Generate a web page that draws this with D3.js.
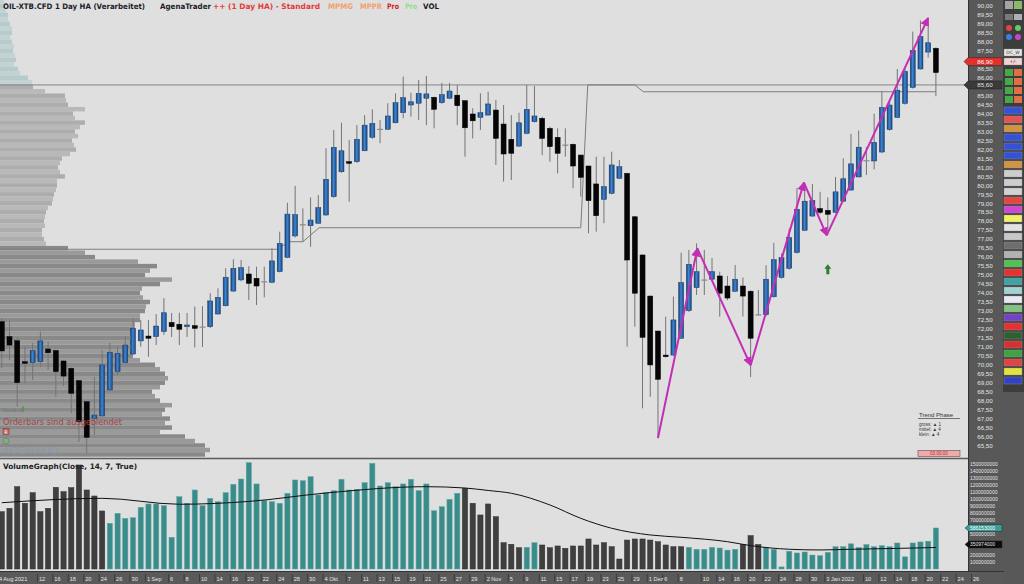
<!DOCTYPE html>
<html>
<head>
<meta charset="utf-8">
<script src="https://d3js.org/d3.v7.min.js"></script>
<style>
  html, body { margin: 0; padding: 0; background: #dfdfdf; }
  svg { display: block; font-family: 'DejaVu Sans', Verdana, sans-serif; }
</style>
</head>
<body>
<svg id="chart" width="1024" height="584"></svg>
<script>
// ---- data ----
// Heikin-Ashi candles, one per trading day, Aug 10 2021 .. Jan 21 2022
var haOpen = [
  72.40, 71.57, 71.34, 70.17, 70.12, 70.17, 70.88, 70.79, 70.21, 69.80,
  69.11, 67.94, 67.02, 67.15, 68.60, 69.62, 70.12, 70.60, 71.33, 71.60,
  71.57, 71.85, 72.36, 72.26, 72.12, 72.18, 72.12, 72.12, 72.83, 73.29,
  74.11, 74.73, 75.06, 74.82, 74.60, 74.60, 75.19, 75.99, 77.18, 77.79,
  77.75, 77.89, 78.35, 79.37, 80.76, 81.32, 81.32, 81.93, 82.68, 83.13,
  83.13, 83.49, 84.05, 84.48, 84.58, 84.86, 84.91, 84.61, 84.86, 85.03,
  84.72, 83.98, 83.79, 83.92, 84.20, 83.42, 82.57, 82.19, 82.90, 83.55,
  83.74, 83.18, 82.68, 82.25, 82.29, 81.69, 81.08, 80.08, 79.22, 79.56,
  80.40, 80.67, 78.25, 76.12, 73.83, 71.88, 70.54, 70.54, 71.48, 73.02,
  74.30, 74.73, 74.77, 74.95, 74.39, 74.10, 74.39, 74.10, 72.79, 72.79,
  73.79, 74.87, 75.38, 76.26, 77.50, 78.29, 78.71, 78.61, 78.50, 79.12,
  79.74, 80.47, 81.36, 81.36, 81.86, 83.11, 83.79, 84.57, 85.46, 86.49,
  87.43, 87.64
]
var haHigh = [
  72.61, 72.46, 71.49, 71.01, 71.22, 71.85, 71.29, 70.85, 70.25, 69.85,
  69.15, 67.98, 69.32, 70.82, 71.22, 71.01, 71.57, 72.59, 72.50, 72.50,
  72.83, 73.72, 72.89, 72.90, 72.89, 73.24, 73.27, 73.99, 74.26, 75.38,
  75.88, 75.84, 75.50, 75.47, 75.47, 76.49, 77.42, 79.03, 79.97, 78.72,
  79.33, 79.46, 82.07, 83.09, 83.49, 82.53, 83.36, 83.92, 84.24, 83.65,
  84.58, 85.13, 86.06, 85.17, 85.88, 86.10, 84.95, 85.72, 85.72, 85.60,
  84.75, 84.30, 85.13, 85.22, 84.76, 84.48, 83.92, 84.05, 85.60, 85.54,
  83.83, 83.27, 83.18, 83.18, 82.33, 81.72, 81.10, 81.60, 81.60, 81.88,
  81.42, 80.70, 78.30, 76.15, 73.85, 71.90, 72.68, 73.80, 76.25, 76.40,
  76.77, 76.40, 75.95, 75.19, 74.95, 75.56, 74.87, 74.15, 74.17, 75.55,
  76.80, 76.20, 77.60, 79.85, 80.10, 80.08, 79.64, 79.33, 80.47, 81.51,
  82.87, 83.06, 82.14, 84.00, 85.25, 84.70, 86.49, 86.50, 88.57, 89.19,
  89.25, 87.70
]
var haLow = [
  69.82, 70.27, 67.66, 68.97, 69.15, 69.89, 69.71, 68.22, 68.82, 67.30,
  65.70, 65.06, 66.09, 67.10, 68.55, 69.43, 70.05, 70.55, 71.01, 70.45,
  71.10, 71.66, 71.55, 71.10, 71.55, 70.97, 70.99, 72.05, 72.80, 73.25,
  74.05, 74.65, 73.61, 73.33, 73.76, 74.55, 75.15, 75.95, 77.10, 76.86,
  76.58, 77.85, 78.30, 79.30, 80.70, 79.09, 81.25, 81.90, 82.60, 82.35,
  83.10, 83.45, 83.74, 83.83, 83.65, 83.36, 83.18, 84.55, 84.80, 83.36,
  81.60, 82.62, 83.09, 83.90, 81.14, 80.21, 80.30, 82.15, 82.85, 83.50,
  81.69, 81.32, 80.67, 81.60, 79.84, 79.37, 77.33, 77.42, 77.89, 79.50,
  80.35, 71.01, 72.12, 67.57, 68.22, 65.90, 70.40, 70.50, 71.45, 72.95,
  73.89, 73.89, 74.70, 72.68, 73.60, 74.05, 72.69, 69.32, 72.75, 72.70,
  73.75, 74.80, 75.30, 76.20, 77.45, 78.25, 78.40, 77.26, 78.45, 79.10,
  79.70, 80.45, 80.58, 80.89, 81.80, 83.05, 83.75, 84.50, 85.40, 86.45,
  87.12, 84.97
]
var haClose = [
  70.77, 71.10, 69.00, 70.08, 70.79, 71.33, 70.67, 69.62, 69.37, 68.41,
  66.83, 65.96, 67.20, 69.99, 70.70, 70.64, 71.10, 72.03, 71.94, 71.48,
  72.16, 72.90, 72.12, 71.98, 72.22, 72.03, 72.10, 73.56, 73.76, 74.88,
  75.38, 75.41, 74.54, 74.39, 74.62, 75.79, 76.77, 78.40, 78.37, 77.80,
  78.07, 78.76, 80.34, 82.12, 81.93, 81.23, 82.57, 83.36, 83.46, 83.12,
  83.87, 84.61, 84.89, 84.66, 85.13, 85.10, 84.24, 85.06, 85.26, 84.44,
  83.21, 83.60, 84.05, 84.54, 82.62, 81.75, 81.79, 83.49, 84.24, 83.87,
  82.62, 82.16, 81.79, 82.24, 81.08, 80.45, 79.15, 78.31, 79.93, 81.14,
  81.04, 75.84, 73.99, 71.53, 69.99, 69.19, 70.45, 72.50, 74.58, 75.60,
  75.19, 74.72, 75.19, 73.99, 73.72, 74.77, 73.83, 71.48, 72.78, 74.77,
  75.86, 75.97, 77.09, 78.67, 79.12, 79.16, 78.50, 78.39, 79.64, 80.37,
  81.20, 82.13, 81.37, 82.40, 84.35, 84.48, 85.31, 86.35, 87.53, 88.30,
  87.95, 86.29
]

// volume per bar, millions
var volume = [
  819, 867, 1176, 939, 1090, 819, 867, 1167, 1105, 1162,
  1486, 1129, 1043, 829, 653, 796, 724, 733, 882, 929,
  929, 905, 453, 1033, 939, 1129, 905, 1010, 962, 1090,
  1210, 1286, 1520, 1215, 976, 962, 939, 1082, 1272, 1262,
  1319, 1057, 1090, 1119, 1282, 1129, 1139, 1233, 1510, 1186,
  1233, 1176, 1215, 1282, 1119, 1215, 833, 890, 996, 1082,
  1153, 939, 772, 929, 747, 376, 353, 304, 310, 376,
  343, 304, 329, 296, 329, 329, 429, 343, 376, 319,
  143, 414, 429, 429, 414, 390, 343, 319, 319, 310,
  282, 282, 310, 300, 270, 282, 350, 477, 350, 307,
  282, 30, 254, 229, 243, 200, 190, 239, 319, 319,
  360, 307, 350, 319, 334, 319, 372, 174, 372, 387,
  397, 586
]
// runs of bar colours in the volume graph: [count, 'T' teal | 'D' dark]
var volumeRuns = [[14, 'D'], [46, 'T'], [8, 'D'], [2, 'T'], [19, 'D'], [7, 'T'], [3, 'D'], [23, 'T']]
// volume average line, [bar, millions]
var volumeAvg = [
  [0, 947], [13, 1010], [23, 925], [32, 965], [42, 1086], [55, 1176], [60, 1157],
  [63, 1122], [66, 1082], [71, 915], [75, 724], [79, 582], [84, 486], [88, 453],
  [94, 390], [97, 334], [102, 282], [106, 272], [110, 282], [115, 292], [121, 307]
]

// volume profile on the left, top level 90.25, step 0.25 down
var profileTop = 90.25
var profileStep = 0.25
var profileVol = [
  4, 5, 6, 8, 8, 10, 12, 12, 10, 12, 14, 13, 15, 16, 14, 18, 20, 28, 32,
  33, 45, 65, 66, 68, 85, 73, 75, 85, 80, 75, 78, 72, 74, 76, 70, 62, 60, 58, 60,
  65, 57, 57, 56, 54, 53, 52, 48, 46, 45, 44, 45, 42, 42, 44, 46,
  68, 85, 95, 138, 157, 150, 145, 172, 160, 142, 140, 143, 150, 146, 145, 140,
  140, 135, 135, 133, 130, 132, 130, 135, 133, 140, 155, 160, 165, 168, 165,
  160, 152, 155, 160, 172, 165, 162, 170, 165, 172, 160, 185, 195, 205, 210, 205
]
var profileUpper = 85.6
var profileLower = 76.5

// trend zigzag [bar, price]
var zigzag = [[85, 65.92], [90.1, 76.49], [97, 69.97], [103.9, 80.16], [106.85, 77.21], [120, 89.34]]
var signalUp = [107, 75.6]
// stepped stop line [bar, price]
var stopLine = [[-1, 76.44], [35.6, 76.44], [37.3, 76.86], [39, 76.86], [41.1, 77.64], [75, 77.64],
  [75.9, 85.6], [82, 85.6], [83.1, 85.22], [121, 85.22]]
var levelLine = 85.6
var lastPrice = 86.90
var lastVolume = 586153000
var lastVolumeAvg = 350974000

// date ticks [bar, label]
var dateTicks = [
  [5, '12'], [7, '16'], [9, '18'], [11, '20'], [13, '24'], [15, '26'], [17, '30'], [19, '1 Sep'],
  [22, '6'], [24, '8'], [26, '10'], [28, '14'], [30, '16'], [32, '20'], [34, '22'], [36, '24'],
  [38, '28'], [40, '30'], [42, '4 Okt'], [45, '7'], [47, '11'], [49, '13'], [51, '15'], [53, '19'],
  [55, '21'], [57, '25'], [59, '27'], [61, '29'], [63, '2 Nov'], [66, '5'], [68, '9'], [70, '11'],
  [72, '15'], [74, '17'], [76, '19'], [78, '23'], [80, '25'], [82, '29'], [84, '1 Dez'], [86, '6'],
  [88, '8'], [91, '10'], [93, '14'], [95, '16'], [97, '20'], [99, '22'], [101, '24'], [103, '28'],
  [105, '30'], [107, '3 Jan 2022'], [112, '10'], [114, '12'], [116, '14'], [118, '18'], [120, '20'],
  [122, '22'], [124, '24'], [126, '26']
]
var firstDateLabel = '4 Aug 2021'

// ---- layout ----
var plotRight = 968
var priceBottom = 458
var volTop = 459
var volBottom = 571

var svg = d3.select('#chart')
var x = d3.scaleLinear().domain([0, 121]).range([1.78, 935.9])
var y = d3.scaleLinear().domain([65.5, 90]).range([445.5, 6])
var yv = d3.scaleLinear().domain([0, 1500]).range([569, 464])
var xp = d3.scaleLinear().domain([0, 100]).range([0, 100])

var defs = svg.append('defs')
var grad = defs.append('linearGradient').attr('id', 'blueBody').attr('x1', 0).attr('x2', 1).attr('y1', 0).attr('y2', 0)
grad.append('stop').attr('offset', '0%').attr('stop-color', '#153b6c')
grad.append('stop').attr('offset', '45%').attr('stop-color', '#3f86d2')
grad.append('stop').attr('offset', '100%').attr('stop-color', '#1a4680')
defs.append('clipPath').attr('id', 'clipPrice').append('rect')
  .attr('x', 0).attr('y', 0).attr('width', plotRight).attr('height', priceBottom)
defs.append('clipPath').attr('id', 'clipVol').append('rect')
  .attr('x', 0).attr('y', volTop).attr('width', plotRight).attr('height', volBottom - volTop)
defs.append('marker').attr('id', 'zigHead')
  .attr('viewBox', '0 0 10 10').attr('refX', 9).attr('refY', 5)
  .attr('markerWidth', 9).attr('markerHeight', 9).attr('markerUnits', 'userSpaceOnUse')
  .attr('orient', 'auto')
  .append('path').attr('d', 'M0,0L10,5L0,10z').attr('fill', '#c42db5')

svg.append('rect').attr('width', 1024).attr('height', 584).attr('fill', '#dfdfdf')

var price = svg.append('g').attr('clip-path', 'url(#clipPrice)')
var vol = svg.append('g').attr('clip-path', 'url(#clipVol)')

drawProfile(price)
drawLines(price)
drawCandles(price)
drawZigzag(price)
drawVolume(vol)
drawFrames()
drawPriceAxis()
drawVolumeAxis()
drawDateAxis()
drawToolbar()
drawTexts()

function drawProfile (g) {
  var half = profileStep / 2
  g.selectAll('.prof').data(profileVol).enter().append('rect')
    .attr('class', 'prof')
    .attr('x', 0)
    .attr('y', function (d, i) { return y(profileTop - i * profileStep + half) })
    .attr('height', function (d, i) { return y(profileTop - i * profileStep - half) - y(profileTop - i * profileStep + half) })
    .attr('width', function (d) { return xp(d) })
    .attr('fill', function (d, i) {
      var p = profileTop - i * profileStep
      var odd = i % 2 === 1
      if (p > profileUpper) return odd ? '#b8cbcc' : '#c3d3d4'
      if (p > profileLower) return odd ? '#adadad' : '#b9b9b9'
      return odd ? '#898989' : '#9a9a9a'
    })
}

function drawLines (g) {
  g.append('line')
    .attr('x1', 0).attr('x2', plotRight)
    .attr('y1', y(levelLine)).attr('y2', y(levelLine))
    .attr('stroke', '#858585').attr('stroke-width', 1)
  var line = d3.line().x(function (d) { return x(d[0]) }).y(function (d) { return y(d[1]) })
  g.append('path').datum(stopLine)
    .attr('d', line).attr('fill', 'none')
    .attr('stroke', '#7d7d7d').attr('stroke-width', 1)
}

function drawCandles (g) {
  var idx = d3.range(haOpen.length)
  var bw = 5
  g.selectAll('.wick').data(idx).enter().append('line')
    .attr('class', 'wick')
    .attr('x1', function (i) { return x(i) }).attr('x2', function (i) { return x(i) })
    .attr('y1', function (i) { return y(haHigh[i]) })
    .attr('y2', function (i) { return y(haLow[i]) })
    .attr('stroke', '#747474').attr('stroke-width', 1)

  var doji = function (i) { return Math.abs(haClose[i] - haOpen[i]) < 0.025 }
  g.selectAll('.body').data(idx.filter(function (i) { return !doji(i) })).enter().append('rect')
    .attr('class', 'body')
    .attr('x', function (i) { return x(i) - bw / 2 })
    .attr('width', bw)
    .attr('y', function (i) { return y(Math.max(haOpen[i], haClose[i])) })
    .attr('height', function (i) { return Math.max(1.5, Math.abs(y(haOpen[i]) - y(haClose[i]))) })
    .attr('fill', function (i) { return haClose[i] > haOpen[i] ? 'url(#blueBody)' : '#050505' })
    .attr('stroke', function (i) { return haClose[i] > haOpen[i] ? '#173c6a' : '#000' })
    .attr('stroke-width', 0.5)

  g.selectAll('.doji').data(idx.filter(doji)).enter().append('line')
    .attr('class', 'doji')
    .attr('x1', function (i) { return x(i) - 3 }).attr('x2', function (i) { return x(i) + 3 })
    .attr('y1', function (i) { return y(haClose[i]) }).attr('y2', function (i) { return y(haClose[i]) })
    .attr('stroke', '#8a8a8a').attr('stroke-width', 1.2)
}

function drawZigzag (g) {
  var segs = d3.pairs(zigzag)
  g.selectAll('.zig').data(segs).enter().append('line')
    .attr('class', 'zig')
    .attr('x1', function (d) { return x(d[0][0]) }).attr('y1', function (d) { return y(d[0][1]) })
    .attr('x2', function (d) { return x(d[1][0]) }).attr('y2', function (d) { return y(d[1][1]) })
    .attr('stroke', '#c42db5').attr('stroke-width', 2)
    .attr('marker-end', 'url(#zigHead)')

  var ax = x(signalUp[0])
  var ay = y(signalUp[1])
  g.append('path')
    .attr('d', 'M' + ax + ',' + ay + 'l3.5,4.5h-2v5.5h-3v-5.5h-2z')
    .attr('fill', '#2f7d2f')
}

function drawVolume (g) {
  var colours = []
  volumeRuns.forEach(function (r) { for (var k = 0; k < r[0]; k++) colours.push(r[1]) })
  g.selectAll('.vbar').data(volume).enter().append('rect')
    .attr('class', 'vbar')
    .attr('x', function (d, i) { return x(i) - 2.6 })
    .attr('width', 5.2)
    .attr('y', function (d) { return yv(d) })
    .attr('height', function (d) { return yv(0) - yv(d) })
    .attr('fill', function (d, i) { return colours[i] === 'T' ? '#3a8c8a' : '#3f3f3f' })
    .attr('stroke', function (d, i) { return colours[i] === 'T' ? '#5fa8a5' : '#2e2e2e' })
    .attr('stroke-width', 0.5)
  var line = d3.line().curve(d3.curveMonotoneX)
    .x(function (d) { return x(d[0]) }).y(function (d) { return yv(d[1]) })
  g.append('path').datum(volumeAvg)
    .attr('d', line).attr('fill', 'none')
    .attr('stroke', '#111').attr('stroke-width', 1)
}

function drawFrames () {
  svg.append('line').attr('x1', 0).attr('x2', 1004).attr('y1', priceBottom + 0.5).attr('y2', priceBottom + 0.5)
    .attr('stroke', '#5a5a5a').attr('stroke-width', 1.5)
  svg.append('rect').attr('x', plotRight).attr('y', 0).attr('width', 1024 - plotRight).attr('height', 584)
    .attr('fill', '#585858')
  svg.append('line').attr('x1', plotRight + 0.5).attr('x2', plotRight + 0.5).attr('y1', 0).attr('y2', volBottom)
    .attr('stroke', '#333').attr('stroke-width', 1)
}

function marker (yy, text, fill, colour) {
  svg.append('path')
    .attr('d', 'M' + 964 + ',' + yy + 'l4,-4h34v8h-34z')
    .attr('fill', fill).attr('stroke', '#222').attr('stroke-width', 0.5)
  svg.append('text').attr('x', 985).attr('y', yy + 2.2)
    .attr('text-anchor', 'middle').attr('font-family', 'Liberation Sans, Arial, sans-serif')
    .attr('font-size', 6.2).attr('fill', colour).text(text)
}

function drawPriceAxis () {
  var fmt = d3.format('.2f')
  var ticks = d3.range(131, 181).map(function (k) { return k / 2 })
  var busy = [y(lastPrice), y(levelLine)]
  ticks = ticks.filter(function (t) { return busy.every(function (b) { return Math.abs(y(t) - b) > 5.5 }) })
  svg.selectAll('.ptick').data(ticks).enter().append('text')
    .attr('class', 'ptick')
    .attr('x', 985).attr('y', function (d) { return y(d) + 2.2 })
    .attr('text-anchor', 'middle')
    .attr('font-family', 'Liberation Sans, Arial, sans-serif')
    .attr('font-size', 6.2).attr('fill', '#e4e4e4')
    .text(function (d) { return fmt(d).replace('.', ',') })
  svg.append('line').attr('x1', plotRight).attr('x2', 964).attr('y1', y(levelLine)).attr('y2', y(levelLine))
    .attr('stroke', '#858585')
  marker(y(lastPrice), fmt(lastPrice).replace('.', ','), '#e2302b', '#fff')
  marker(y(levelLine), fmt(levelLine).replace('.', ','), '#3a3a3a', '#e0e0e0')
}

function drawVolumeAxis () {
  var ticks = d3.range(1, 16).map(function (k) { return k * 100 })
  var busy = [yv(lastVolume / 1e6), yv(lastVolumeAvg / 1e6)]
  ticks = ticks.filter(function (t) { return busy.every(function (b) { return Math.abs(yv(t) - b) > 5 }) })
  svg.selectAll('.vtick').data(ticks).enter().append('text')
    .attr('class', 'vtick')
    .attr('x', 970).attr('y', function (d) { return yv(d) + 1.8 })
    .attr('font-family', 'Liberation Sans, Arial, sans-serif')
    .attr('font-size', 5).attr('fill', '#e4e4e4')
    .text(function (d) { return String(d * 1000000) })
  var vm = [[lastVolume, '#3b9d9a', '#fff'], [lastVolumeAvg, '#0c0c0c', '#e0e0e0']]
  vm.forEach(function (m) {
    var yy = yv(m[0] / 1e6)
    svg.append('path').attr('d', 'M' + 965 + ',' + yy + 'l4,-3.5h33v7h-33z')
      .attr('fill', m[1]).attr('stroke', '#222').attr('stroke-width', 0.5)
    svg.append('text').attr('x', 970).attr('y', yy + 1.8)
      .attr('font-family', 'Liberation Sans, Arial, sans-serif')
      .attr('font-size', 5).attr('fill', m[2]).text(String(m[0]))
  })
}

function drawDateAxis () {
  svg.append('rect').attr('x', 0).attr('y', volBottom).attr('width', 1004).attr('height', 584 - volBottom)
    .attr('fill', '#5a5a5a')
  svg.append('line').attr('x1', 0).attr('x2', 1004).attr('y1', volBottom + 0.5).attr('y2', volBottom + 0.5)
    .attr('stroke', '#333')
  var g = svg.append('g')
  g.selectAll('.dsep').data(dateTicks).enter().append('line')
    .attr('x1', function (d) { return x(d[0]) - 3 }).attr('x2', function (d) { return x(d[0]) - 3 })
    .attr('y1', volBottom + 3).attr('y2', 582)
    .attr('stroke', '#333').attr('stroke-width', 0.8)
  g.selectAll('.dlab').data(dateTicks).enter().append('text')
    .attr('x', function (d) { return x(d[0]) - 1.5 }).attr('y', 580.5)
    .attr('font-family', 'Liberation Sans, Arial, sans-serif')
    .attr('font-size', 5.6).attr('fill', '#e6e6e6')
    .text(function (d) { return d[1] })
  g.append('text').attr('x', -1).attr('y', 580.5)
    .attr('font-family', 'Liberation Sans, Arial, sans-serif')
    .attr('font-size', 5.6).attr('fill', '#e6e6e6').text(firstDateLabel)
}

function drawToolbar () {
  var tb = svg.append('g')
  tb.append('rect').attr('x', 1003).attr('y', 0).attr('width', 21).attr('height', 392).attr('fill', '#3d3d3d')
  var icons = [[1005, 1, 8, 8, '#a4a4a4'], [1014, 1, 8, 8, '#8cb86a'], [1005, 14, 8, 6, '#7a7a7a'], [1014, 14, 8, 6, '#b0b0b0']]
  icons.forEach(function (r) {
    tb.append('rect').attr('x', r[0]).attr('y', r[1]).attr('width', r[2]).attr('height', r[3]).attr('fill', r[4])
  })
  var dots = [[1009, 28, '#e04444'], [1018, 28, '#62cc62'], [1009, 37, '#3c7fe0'], [1018, 37, '#c248c2']]
  dots.forEach(function (c) {
    tb.append('circle').attr('cx', c[0]).attr('cy', c[1]).attr('r', 3).attr('fill', c[2])
  })
  var boxes = [[49, '#e6e6e6', 'DC_W'], [58, '#f0d4d4', '+/-']]
  boxes.forEach(function (b) {
    tb.append('rect').attr('x', 1004).attr('y', b[0]).attr('width', 18).attr('height', 7)
      .attr('fill', b[1]).attr('stroke', '#888').attr('stroke-width', 0.4)
    tb.append('text').attr('x', 1013).attr('y', b[0] + 5.3).attr('text-anchor', 'middle')
      .attr('font-size', 4.5).attr('fill', '#333').text(b[2])
  })
  ;[69, 78, 87, 96].forEach(function (yy) {
    tb.append('rect').attr('x', 1005).attr('y', yy).attr('width', 8).attr('height', 7).attr('fill', '#47a84a')
    tb.append('rect').attr('x', 1014).attr('y', yy).attr('width', 8).attr('height', 7).attr('fill', '#e26e48')
  })
  var buttons = ['#3552d4', '#e25454', '#d29442', '#3552d4', '#3552d4', '#3552d4', '#d29442', '#cdcdcd',
    '#cdcdcd', '#d2d2d2', '#e44444', '#d244d2', '#f2f064', '#e2e2e2', '#c8c8c8', '#6e6e6e', '#b2b2b2',
    '#52c252', '#e23232', '#42a2a2', '#a2d2d2', '#e8e8f2', '#82c282', '#7244c2', '#e23232', '#2f5f2f',
    '#d23232', '#42a242', '#e24242', '#e2e242', '#3242c2']
  tb.selectAll('.btn').data(buttons).enter().append('rect')
    .attr('x', 1004).attr('y', function (d, i) { return 107 + i * 9 })
    .attr('width', 18).attr('height', 7)
    .attr('fill', function (d) { return d })
    .attr('stroke', '#999').attr('stroke-width', 0.4)
}

function drawTexts () {
  var title = [
    ['OIL-XTB.CFD 1 Day HA (Verarbeitet)', 3, 142, '#1c1c2a'],
    ['AgenaTrader', 160, 51, '#1c1c2a'],
    ['++ (1 Day HA) - Standard', 213, 107, '#e23c3c'],
    ['MPMG', 328, 25, '#f2a06e'],
    ['MPPR', 360, 22, '#f2a06e'],
    ['Pro', 387, 12, '#d42222'],
    ['Pro', 405, 12, '#8ee08e'],
    ['VOL', 423, 16, '#1c1c2a']
  ]
  title.forEach(function (t) {
    svg.append('text').attr('x', t[1]).attr('y', 8.6)
      .attr('font-size', 7.6).attr('font-weight', 'bold').attr('fill', t[3])
      .attr('textLength', t[2]).attr('lengthAdjust', 'spacingAndGlyphs')
      .text(t[0])
  })

  svg.append('text').attr('x', 3).attr('y', 468.5)
    .attr('font-size', 7.4).attr('font-weight', 'bold').attr('fill', '#222')
    .attr('textLength', 134).attr('lengthAdjust', 'spacingAndGlyphs')
    .text('VolumeGraph(Close, 14, 7, True)')

  // lower-left notes
  svg.append('text').attr('x', 2).attr('y', 412).attr('font-size', 4.6).attr('fill', '#5d7a5d')
    .text('TrendLine')
  svg.append('path').attr('d', 'M23,406l2,3h-1.2v2.5h-1.6v-2.5h-1.2z').attr('fill', '#4a9a4a')
  svg.append('text').attr('x', 3).attr('y', 424.5)
    .attr('font-size', 8).attr('fill', '#a84444')
    .attr('textLength', 119).attr('lengthAdjust', 'spacingAndGlyphs')
    .text('Orderbars sind ausgeblendet')
  svg.append('rect').attr('x', 3).attr('y', 428.5).attr('width', 6).attr('height', 6)
    .attr('fill', '#c26060').attr('stroke', '#7a3a3a').attr('stroke-width', 0.5)
  svg.append('text').attr('x', 6).attr('y', 433.5).attr('text-anchor', 'middle')
    .attr('font-size', 5).attr('fill', '#fff').text('R')
  svg.append('circle').attr('cx', 6).attr('cy', 441).attr('r', 3)
    .attr('fill', '#7fb07f').attr('stroke', '#4d7a4d').attr('stroke-width', 0.5)
  svg.append('text').attr('x', 2).attr('y', 453.5)
    .attr('font-size', 8).attr('fill', '#8a96a6')
    .attr('textLength', 56).attr('lengthAdjust', 'spacingAndGlyphs')
    .text('AGENA(X)')

  // trend phase box
  var tp = svg.append('g').attr('font-family', 'Liberation Sans, Arial, sans-serif').attr('fill', '#333')
  tp.append('text').attr('x', 919).attr('y', 416.5).attr('font-size', 6).text('Trend Phase')
  tp.append('line').attr('x1', 918).attr('x2', 960).attr('y1', 418.5).attr('y2', 418.5)
    .attr('stroke', '#444').attr('stroke-width', 0.7)
  var rows = [['gross:', '1'], ['mittel:', '4'], ['klein:', '4']]
  rows.forEach(function (r, k) {
    var yy = 425.5 + k * 5.2
    tp.append('text').attr('x', 919).attr('y', yy).attr('font-size', 4.6).text(r[0] + ' \u25B2 ' + r[1])
  })
  tp.append('rect').attr('x', 918).attr('y', 450.5).attr('width', 42).attr('height', 6)
    .attr('fill', '#f2a9a9').attr('stroke', '#555').attr('stroke-width', 0.6)
  tp.append('text').attr('x', 939).attr('y', 455.3).attr('text-anchor', 'middle')
    .attr('font-size', 4.6).attr('fill', '#b83030').text('03:00:00')
}
</script>
</body>
</html>
